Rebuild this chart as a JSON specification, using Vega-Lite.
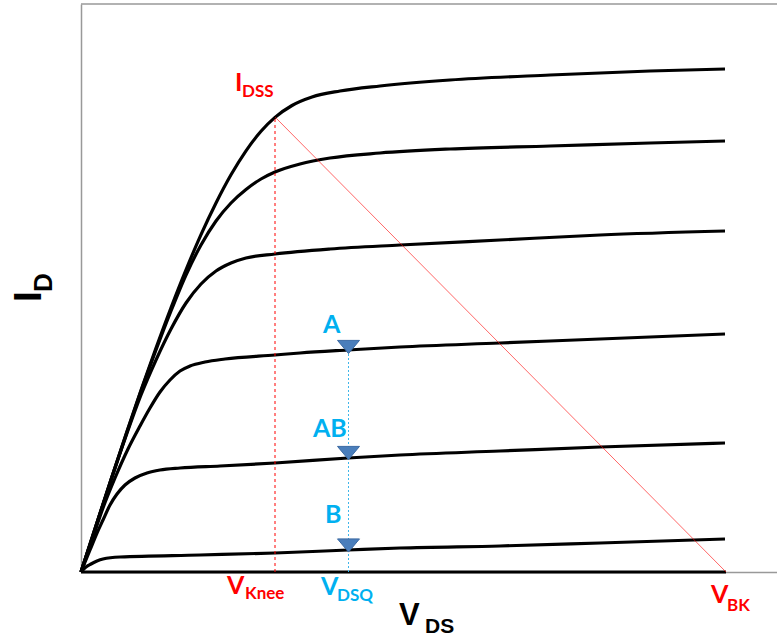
{
  "$schema": "https://vega.github.io/schema/vega-lite/v6.json",
  "width": 696,
  "height": 568,
  "autosize": {"type": "none"},
  "padding": {"left": 81, "top": 4, "right": 0, "bottom": 72},
  "background": "white",
  "config": {"view": {"stroke": null}},
  "datasets": {
    "curves": [
      {"curve": 0, "x": 0, "y": 0}, {"curve": 0, "x": 645, "y": 0},
      {"curve": 1, "x": 0, "y": 0}, {"curve": 1, "x": 15, "y": 46.4}, {"curve": 1, "x": 30, "y": 92.5}, {"curve": 1, "x": 45, "y": 137.7}, {"curve": 1, "x": 60, "y": 181.7}, {"curve": 1, "x": 75, "y": 224}, {"curve": 1, "x": 90, "y": 264.3}, {"curve": 1, "x": 105, "y": 302.2}, {"curve": 1, "x": 120, "y": 337.3}, {"curve": 1, "x": 135, "y": 369}, {"curve": 1, "x": 150, "y": 397.2}, {"curve": 1, "x": 165, "y": 421.2}, {"curve": 1, "x": 180, "y": 440.8}, {"curve": 1, "x": 194, "y": 454.6}, {"curve": 1, "x": 211, "y": 466.5}, {"curve": 1, "x": 231, "y": 475}, {"curve": 1, "x": 259, "y": 481}, {"curve": 1, "x": 299, "y": 486}, {"curve": 1, "x": 369, "y": 492}, {"curve": 1, "x": 469, "y": 497}, {"curve": 1, "x": 569, "y": 501}, {"curve": 1, "x": 644, "y": 503},
      {"curve": 2, "x": 0, "y": 0}, {"curve": 2, "x": 15, "y": 46}, {"curve": 2, "x": 30, "y": 92}, {"curve": 2, "x": 45, "y": 137}, {"curve": 2, "x": 60, "y": 181}, {"curve": 2, "x": 75, "y": 222}, {"curve": 2, "x": 90, "y": 261}, {"curve": 2, "x": 105, "y": 297}, {"curve": 2, "x": 120, "y": 327}, {"curve": 2, "x": 135, "y": 351}, {"curve": 2, "x": 150, "y": 369}, {"curve": 2, "x": 165, "y": 382.5}, {"curve": 2, "x": 180, "y": 393}, {"curve": 2, "x": 194, "y": 400}, {"curve": 2, "x": 219, "y": 408}, {"curve": 2, "x": 249, "y": 414}, {"curve": 2, "x": 299, "y": 419}, {"curve": 2, "x": 369, "y": 423}, {"curve": 2, "x": 469, "y": 426}, {"curve": 2, "x": 569, "y": 429}, {"curve": 2, "x": 644, "y": 431},
      {"curve": 3, "x": 0, "y": 0}, {"curve": 3, "x": 15, "y": 46}, {"curve": 3, "x": 30, "y": 92}, {"curve": 3, "x": 45, "y": 136}, {"curve": 3, "x": 60, "y": 177}, {"curve": 3, "x": 75, "y": 212}, {"curve": 3, "x": 90, "y": 243}, {"curve": 3, "x": 105, "y": 269}, {"curve": 3, "x": 120, "y": 288}, {"curve": 3, "x": 135, "y": 301}, {"curve": 3, "x": 150, "y": 309}, {"curve": 3, "x": 165, "y": 314}, {"curve": 3, "x": 194, "y": 318}, {"curve": 3, "x": 249, "y": 323}, {"curve": 3, "x": 319, "y": 327}, {"curve": 3, "x": 419, "y": 332}, {"curve": 3, "x": 519, "y": 337}, {"curve": 3, "x": 644, "y": 341},
      {"curve": 4, "x": 0, "y": 0}, {"curve": 4, "x": 11, "y": 32}, {"curve": 4, "x": 22, "y": 64}, {"curve": 4, "x": 34, "y": 94}, {"curve": 4, "x": 47, "y": 123}, {"curve": 4, "x": 59, "y": 146}, {"curve": 4, "x": 69, "y": 164}, {"curve": 4, "x": 79, "y": 180}, {"curve": 4, "x": 89, "y": 192}, {"curve": 4, "x": 99, "y": 201}, {"curve": 4, "x": 109, "y": 206}, {"curve": 4, "x": 124, "y": 210}, {"curve": 4, "x": 144, "y": 213}, {"curve": 4, "x": 194, "y": 217}, {"curve": 4, "x": 219, "y": 219}, {"curve": 4, "x": 267, "y": 222}, {"curve": 4, "x": 319, "y": 225}, {"curve": 4, "x": 419, "y": 229}, {"curve": 4, "x": 519, "y": 233}, {"curve": 4, "x": 644, "y": 238},
      {"curve": 5, "x": 0, "y": 0}, {"curve": 5, "x": 9, "y": 22}, {"curve": 5, "x": 16, "y": 39}, {"curve": 5, "x": 22, "y": 52}, {"curve": 5, "x": 29, "y": 67}, {"curve": 5, "x": 36, "y": 78}, {"curve": 5, "x": 44, "y": 87}, {"curve": 5, "x": 54, "y": 94}, {"curve": 5, "x": 66, "y": 99}, {"curve": 5, "x": 79, "y": 102}, {"curve": 5, "x": 99, "y": 104}, {"curve": 5, "x": 139, "y": 106}, {"curve": 5, "x": 194, "y": 109}, {"curve": 5, "x": 267, "y": 114}, {"curve": 5, "x": 319, "y": 117}, {"curve": 5, "x": 419, "y": 121}, {"curve": 5, "x": 519, "y": 125}, {"curve": 5, "x": 644, "y": 129},
      {"curve": 6, "x": 0, "y": 0}, {"curve": 6, "x": 5, "y": 5}, {"curve": 6, "x": 10, "y": 8}, {"curve": 6, "x": 16, "y": 11}, {"curve": 6, "x": 22, "y": 13}, {"curve": 6, "x": 39, "y": 15}, {"curve": 6, "x": 119, "y": 17}, {"curve": 6, "x": 194, "y": 19}, {"curve": 6, "x": 267, "y": 22}, {"curve": 6, "x": 319, "y": 24}, {"curve": 6, "x": 419, "y": 26}, {"curve": 6, "x": 519, "y": 29}, {"curve": 6, "x": 644, "y": 33}
    ]
  },
  "encoding": {
    "x": {"field": "x", "type": "quantitative", "scale": {"domain": [0, 696], "nice": false, "zero": false}, "axis": {"domainColor": "#999999", "domainWidth": 1.5, "ticks": false, "labels": false, "grid": false, "title": null}},
    "y": {"field": "y", "type": "quantitative", "scale": {"domain": [0, 568], "nice": false, "zero": false}, "axis": {"domainColor": "#999999", "domainWidth": 1.5, "ticks": false, "labels": false, "grid": false, "title": null}}
  },
  "layer": [
    {
      "data": {"values": [{"x": 0, "x2": 696, "y": 568}]},
      "mark": {"type": "rule", "color": "#999999", "strokeWidth": 1.5},
      "encoding": {"x2": {"field": "x2"}}
    },
    {
      "data": {"name": "curves"},
      "mark": {"type": "line", "color": "black", "strokeWidth": 3.2, "interpolate": "monotone"},
      "encoding": {"detail": {"field": "curve", "type": "nominal"}}
    },
    {
      "data": {"values": [{"x": 194, "y": 455}, {"x": 645, "y": 0}]},
      "mark": {"type": "line", "color": "#ff0000", "opacity": 0.6, "strokeWidth": 1}
    },
    {
      "data": {"values": [{"x": 194, "y": 0, "y2": 455}]},
      "mark": {"type": "rule", "color": "#ff0000", "strokeWidth": 1, "strokeDash": [3, 3]},
      "encoding": {"y2": {"field": "y2"}}
    },
    {
      "data": {"values": [{"x": 267.5, "y": 0, "y2": 225}]},
      "mark": {"type": "rule", "color": "#3fb6ea", "strokeWidth": 1, "strokeDash": [2, 2]},
      "encoding": {"y2": {"field": "y2"}}
    },
    {
      "data": {"values": [{"label": "A", "x": 267.5, "y": 225}, {"label": "AB", "x": 267.5, "y": 119}, {"label": "B", "x": 267.5, "y": 26.5}]},
      "mark": {"type": "point", "shape": "M-1,-0.6L1,-0.6L0,0.6Z", "size": 484, "filled": true, "fill": "#4a7ebb", "stroke": "#3b6aa3", "strokeWidth": 1, "opacity": 1}
    },
    {
      "data": {"values": [{"t": "I", "x": 154, "y": 481}, {"t": "V", "x": 146, "y": -22}, {"t": "V", "x": 630, "y": -31}]},
      "mark": {"type": "text", "font": "Lato", "fontWeight": "bold", "fontSize": 25, "color": "#ff0000", "align": "left", "baseline": "alphabetic"},
      "encoding": {"text": {"field": "t"}}
    },
    {
      "data": {"values": [{"t": "DSS", "x": 161, "y": 475}, {"t": "Knee", "x": 164, "y": -27}, {"t": "BK", "x": 646, "y": -39}]},
      "mark": {"type": "text", "font": "Lato", "fontWeight": "bold", "fontSize": 17, "color": "#ff0000", "align": "left", "baseline": "alphabetic"},
      "encoding": {"text": {"field": "t"}}
    },
    {
      "data": {"values": [{"t": "V", "x": 240, "y": -23}, {"t": "A", "x": 242, "y": 239}, {"t": "AB", "x": 232, "y": 135}, {"t": "B", "x": 244, "y": 49}]},
      "mark": {"type": "text", "font": "Lato", "fontWeight": "bold", "fontSize": 25, "color": "#00b0f0", "align": "left", "baseline": "alphabetic"},
      "encoding": {"text": {"field": "t"}}
    },
    {
      "data": {"values": [{"t": "DSQ", "x": 256, "y": -29}]},
      "mark": {"type": "text", "font": "Lato", "fontWeight": "bold", "fontSize": 17, "color": "#00b0f0", "align": "left", "baseline": "alphabetic"},
      "encoding": {"text": {"field": "t"}}
    },
    {
      "data": {"values": [{"t": "V", "x": 318, "y": -53}]},
      "mark": {"type": "text", "font": "Liberation Sans", "fontWeight": "bold", "fontSize": 31, "color": "black", "align": "left", "baseline": "alphabetic"},
      "encoding": {"text": {"field": "t"}}
    },
    {
      "data": {"values": [{"t": "DS", "x": 344, "y": -61}]},
      "mark": {"type": "text", "font": "Liberation Sans", "fontWeight": "bold", "fontSize": 21, "color": "black", "align": "left", "baseline": "alphabetic"},
      "encoding": {"text": {"field": "t"}}
    },
    {
      "data": {"values": [{"t": "I", "x": -40, "y": 270}]},
      "mark": {"type": "text", "font": "Liberation Sans", "fontWeight": "bold", "fontSize": 39, "color": "black", "align": "left", "baseline": "alphabetic", "angle": 270},
      "encoding": {"text": {"field": "t"}}
    },
    {
      "data": {"values": [{"t": "D", "x": -29, "y": 280}]},
      "mark": {"type": "text", "font": "Liberation Sans", "fontWeight": "bold", "fontSize": 26, "color": "black", "align": "left", "baseline": "alphabetic", "angle": 270},
      "encoding": {"text": {"field": "t"}}
    }
  ]
}
